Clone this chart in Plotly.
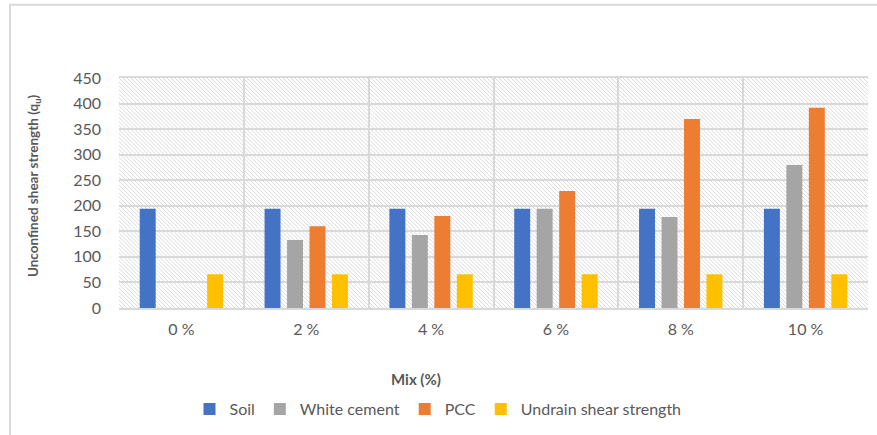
import base64
import plotly.graph_objects as go

categories = ["0 %", "2 %", "4 %", "6 %", "8 %", "10 %"]
soil = [194, 194, 194, 194, 194, 194]
white_cement = [None, 133, 143, 194, 178, 280]
pcc = [None, 160, 180, 229, 370, 392]
undrain = [66, 66, 66, 66, 66, 66]
y_ticks = [0, 50, 100, 150, 200, 250, 300, 350, 400, 450]

W, H = 877, 435
L, R, T, B = 119, 9, 78, 125
PW, PH = W - L - R, H - T - B

# hatch background (decoration) as inline SVG
lines = []
step = 4
for k in range(-PH, PW + PH, step):
    lines.append(f'<line x1="{k}" y1="0" x2="{k + PH}" y2="{PH}"/>')
svg = (f'<svg xmlns="http://www.w3.org/2000/svg" width="{PW}" height="{PH}" '
       f'viewBox="0 0 {PW} {PH}" preserveAspectRatio="none">'
       f'<rect width="{PW}" height="{PH}" fill="white"/>'
       f'<g stroke="#d0d0d0" stroke-width="0.8">' + "".join(lines) + '</g></svg>')
src = "data:image/svg+xml;base64," + base64.b64encode(svg.encode()).decode()

font = "Lato"
gray_txt = "#595959"

fig = go.Figure()
series = [("Soil", soil, "#4472C4"), ("White cement", white_cement, "#A5A5A5"),
          ("PCC", pcc, "#ED7D31"), ("Undrain shear strength", undrain, "#FFC000")]
for name, vals, col in series:
    fig.add_bar(x=categories, y=vals, name=name, marker_color=col, marker_line_width=0)

def px_x(p):
    return (p - L) / PW

def px_y(p):
    return (H - B - p) / PH

fig.update_layout(
    width=W, height=H,
    margin=dict(l=L, r=R, t=T, b=B),
    paper_bgcolor="white", plot_bgcolor="rgba(0,0,0,0)",
    barmode="group", bargap=0.28, bargroupgap=0.29,
    font=dict(family=font, color=gray_txt, size=15),
    showlegend=True,
    legend=dict(orientation="h", x=px_x(438), xanchor="center", y=px_y(412), yanchor="middle",
                font=dict(size=16, color=gray_txt), itemwidth=30, traceorder="normal",
                bgcolor="rgba(0,0,0,0)"),
    images=[dict(source=src, xref="paper", yref="paper", x=0, y=1, sizex=1, sizey=1,
                 xanchor="left", yanchor="top", sizing="stretch", layer="below")],
    xaxis=dict(type="category", tickson="boundaries", showgrid=True, gridcolor="#d9d9d9",
               gridwidth=1.5, ticks="", showline=True, linecolor="#d9d9d9", linewidth=1.5,
               mirror=True, ticklabelstandoff=6,
               tickfont=dict(size=16, color=gray_txt), fixedrange=True),
    yaxis=dict(range=[0, 450], tickvals=y_ticks, showgrid=True, gridcolor="#d9d9d9",
               gridwidth=1.5, zeroline=False, showline=False, ticks="",
               ticklabelstandoff=17,
               tickfont=dict(size=16, color=gray_txt), fixedrange=True),
    annotations=[
        dict(text="<b>Mix (%)</b>", xref="paper", yref="paper", x=px_x(416), y=px_y(382),
             showarrow=False, font=dict(size=15, color=gray_txt), xanchor="center", yanchor="middle"),
        dict(text="<b>Unconfined shear strength (q<sub>u</sub>)</b>", xref="paper", yref="paper",
             x=px_x(34), y=px_y(187), textangle=-90, showarrow=False,
             font=dict(size=13.5, color=gray_txt), xanchor="center", yanchor="middle"),
    ],
    shapes=[dict(type="rect", xref="paper", yref="paper", x0=px_x(10), x1=px_x(880),
                 y0=px_y(440), y1=px_y(4), line=dict(color="#d9d9d9", width=2),
                 fillcolor="rgba(0,0,0,0)", layer="below")],
)

fig.write_html("out.html")
